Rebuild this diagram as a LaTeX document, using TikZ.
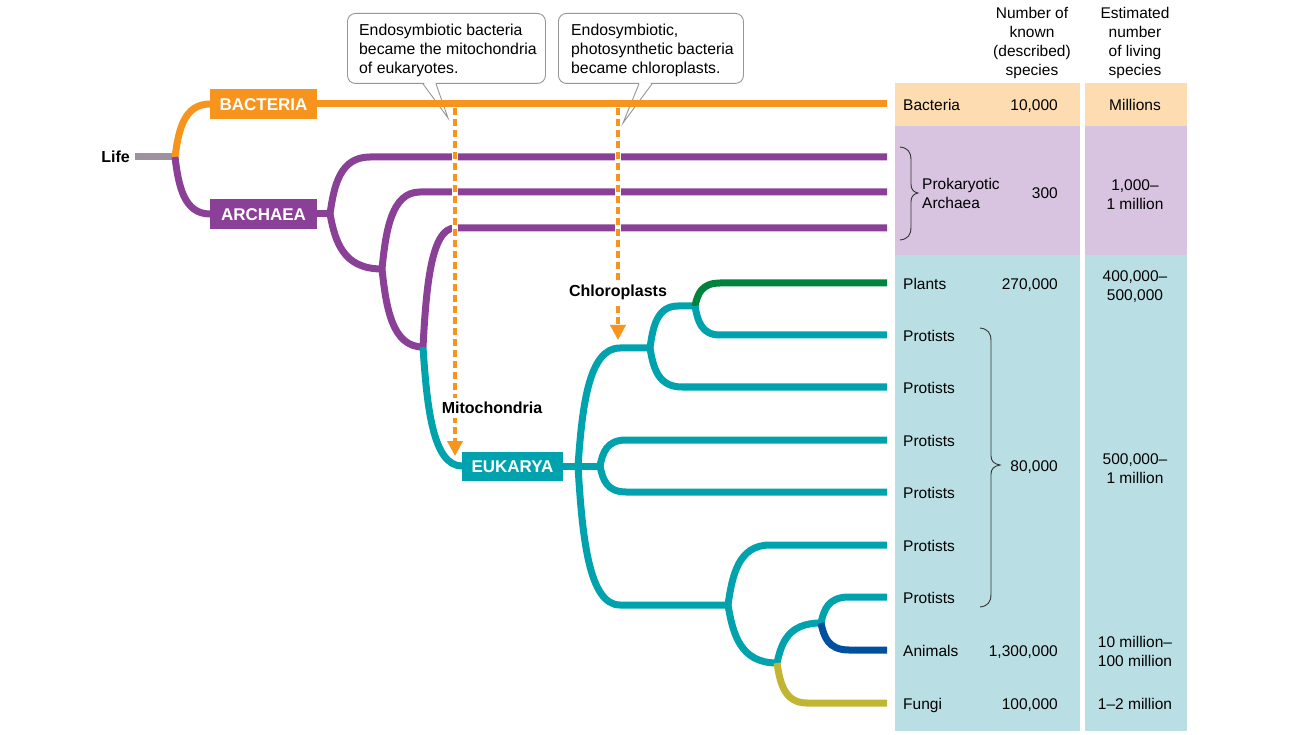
\documentclass[tikz,border=0pt]{standalone}
\usepackage{fontspec}
\setmainfont{Liberation Sans}
\usetikzlibrary{calc,arrows.meta}
\definecolor{orng}{RGB}{247,148,30}
\definecolor{purp}{RGB}{139,64,152}
\definecolor{tealc}{RGB}{0,163,173}
\definecolor{grn}{RGB}{0,132,61}
\definecolor{navyc}{RGB}{0,80,160}
\definecolor{olivec}{RGB}{192,182,50}
\definecolor{lifegray}{RGB}{158,146,158}
\definecolor{bacfill}{RGB}{253,220,178}
\definecolor{arcfill}{RGB}{216,196,224}
\definecolor{eukfill}{RGB}{185,223,228}
\definecolor{callgray}{RGB}{150,150,150}
\begin{document}
\begin{tikzpicture}[x=1pt,y=-1pt,
  br/.style={to path={let \p1=(\tikztostart),\p2=(\tikztotarget) in
     .. controls (\x1+0.1*#1pt, 0.5*\y1+0.5*\y2) and (\x1+0.25*#1pt,\y2) .. (\x1+#1pt,\y2) -- (\tikztotarget)}},
  tree/.style={line width=7pt},
  boxlab/.style={font=\fontsize{17}{20}\selectfont\bfseries, text=white, minimum width=107pt, minimum height=30pt,
     inner sep=0pt, text height=12.2pt, text depth=0pt},
  tbl/.style={font=\fontsize{15.5}{19}\selectfont, inner sep=0pt},
  tbll/.style={tbl, anchor=base west},
  tblr/.style={tbl, anchor=base east},
  tblc/.style={tbl, align=center},
  bold/.style={font=\fontsize{16}{19}\selectfont\bfseries},
  callbox/.style={draw=callgray, line width=0.9pt, fill=white, rounded corners=8pt, minimum height=70pt,
     inner sep=0pt, anchor=north west},
  calltext/.style={align=left, font=\fontsize{15.8}{19}\selectfont, inner sep=0pt, anchor=west},
  callline/.style={callgray, line width=0.9pt},
  dasharr/.style={orng, line width=4pt, dash pattern=on 7pt off 4pt, -{Triangle[width=15pt,length=15pt]}},
  knock/.style={white, line width=6.5pt},
  bracec/.style={black!80, line width=0.9pt}
]
\useasboundingbox (0,0) rectangle (1291,735);

% ---------- table backgrounds ----------
\fill[bacfill] (895,83) rectangle (1080,126);
\fill[bacfill] (1085,83) rectangle (1187,126);
\fill[arcfill] (895,126) rectangle (1080,255);
\fill[arcfill] (1085,126) rectangle (1187,255);
\fill[eukfill] (895,255) rectangle (1080,731);
\fill[eukfill] (1085,255) rectangle (1187,731);

% ---------- callouts ----------
\node[callbox, minimum width=198pt] (c1) at (347,13) {};
\node[calltext] (c1txt) at (359,50.5) {Endosymbiotic bacteria\\became the mitochondria\\of eukaryotes.};
\coordinate (c1a) at ($(c1.south west)+(76,0)$);
\coordinate (c1b) at ($(c1.south west)+(89,0)$);
\coordinate (c1t) at (448,118);
\fill[white] ($(c1a)+(0.6,-1.5)$) -- ($(c1b)+(-0.6,-1.5)$) -- (c1t) -- cycle;
\draw[callline] (c1a) -- (c1t) -- (c1b);

\node[callbox, minimum width=185pt] (c2) at (558,13) {};
\node[calltext] (c2txt) at (571,50.5) {Endosymbiotic,\\photosynthetic bacteria\\became chloroplasts.};
\coordinate (c2a) at ($(c2.south west)+(81,0)$);
\coordinate (c2b) at ($(c2.south west)+(94,0)$);
\coordinate (c2t) at (623,123);
\fill[white] ($(c2a)+(0.6,-1.5)$) -- ($(c2b)+(-0.6,-1.5)$) -- (c2t) -- cycle;
\draw[callline] (c2a) -- (c2t) -- (c2b);

% ---------- coordinates ----------
\coordinate (Ls) at (135,157);
\coordinate (L0) at (175,157);
\coordinate (A0) at (330,214);
\coordinate (A1) at (382,269);
\coordinate (A2) at (423,347);
\coordinate (E0) at (578,466);
\coordinate (E2) at (600,466);
\coordinate (E1) at (650,348);
\coordinate (E4) at (695,306);
\coordinate (E3) at (728,605);
\coordinate (E5) at (777,663);
\coordinate (E6) at (821,623);
\coordinate (tb) at (887,104);
\coordinate (ta1) at (887,157);
\coordinate (ta2) at (887,192);
\coordinate (ta3) at (887,228);
\coordinate (tpl) at (887,283);
\coordinate (tp1) at (887,335);
\coordinate (tp2) at (887,387);
\coordinate (tp3) at (887,440);
\coordinate (tp4) at (887,492);
\coordinate (tp5) at (887,545);
\coordinate (tp6) at (887,597);
\coordinate (tan) at (887,650);
\coordinate (tfu) at (887,703);

% ---------- domain boxes ----------
\node[boxlab, fill=orng] (bac) at (263.5,104) {BACTERIA};
\node[boxlab, fill=purp] (arc) at (263.5,214) {ARCHAEA};
\node[boxlab, fill=tealc, minimum width=101pt, minimum height=29pt] (euk) at (512.5,466) {EUKARYA};
\node[bold, anchor=base east, inner sep=0pt] (life) at (130,163) {Life};

% ---------- tree ----------
\draw[tree, lifegray] (Ls) -- (L0);
\draw[tree, orng] (L0) to[br=35] (bac.west);
\draw[tree, orng] (bac.east) -- (tb);
\draw[tree, purp] (L0) to[br=35] (arc.west);
\draw[tree, purp] (arc.east) -- (A0);
\draw[tree, purp] (A0) to[br=40] (ta1);
\draw[tree, purp] (A0) to[br=52] (A1);
\draw[tree, purp] (A1) to[br=38] (ta2);
\draw[tree, purp] (A1) to[br=41] (A2);
\draw[tree, purp] (A2) to[br=32] (ta3);
\draw[tree, tealc] (A2) to[br=39] (euk.west);
\draw[tree, tealc] (euk.east) -- (E2);
\draw[tree, tealc] (E0) to[br=42] (E1);
\draw[tree, tealc] (E0) to[br=42] (E3);
\draw[tree, tealc] (E2) to[br=26] (tp3);
\draw[tree, tealc] (E2) to[br=26] (tp4);
\draw[tree, tealc] (E1) to[br=28] (E4);
\draw[tree, tealc] (E1) to[br=32] (tp2);
\draw[tree, grn] (E4) to[br=25] (tpl);
\draw[tree, tealc] (E4) to[br=25] (tp1);
\draw[tree, tealc] (E3) to[br=42] (tp5);
\draw[tree, tealc] (E3) to[br=49] (E5);
\draw[tree, tealc] (E5) to[br=44] (E6);
\draw[tree, olivec] (E5) to[br=30] (tfu);
\draw[tree, tealc] (E6) to[br=28] (tp6);
\draw[tree, navyc] (E6) to[br=28] (tan);

% ---------- endosymbiosis arrows ----------
\coordinate (m0) at (455,108);
\coordinate (m1) at (455,456);
\coordinate (k0) at (618,108);
\coordinate (k1) at (618,340);
\foreach \yy in {157,192,228}{
  \draw[knock] (455,\yy-5) -- (455,\yy+5);
  \draw[knock] (618,\yy-5) -- (618,\yy+5);
}
\draw[dasharr] (m0) -- (m1);
\draw[dasharr] (k0) -- (k1);
\node[bold, fill=white, inner xsep=1pt, inner ysep=4pt] (mito) at (492,408) {Mitochondria};
\node[bold, fill=white, inner xsep=1pt, inner ysep=4pt] (chlo) at (618,292) {Chloroplasts};

% ---------- table headers ----------
\node[tblc] (h1) at (1032,43) {Number of\\known\\(described)\\species};
\node[tblc] (h2) at (1135,43) {Estimated\\number\\of living\\species};

% ---------- table rows ----------
\node[tbll] (n1) at (903,110.5) {Bacteria};
\node[tblr] (k1n) at (1058,110.5) {10,000};
\node[tbl, anchor=base] (e1) at (1135,110.5) {Millions};

\node[tbl, anchor=west, align=left] (n2) at (922,193) {Prokaryotic\\Archaea};
\node[tblr] (k2n) at (1058,199) {300};
\node[tblc] (e2) at (1135,195) {1,000–\\1 million};
\draw[bracec] (900,147) .. controls (908,148) and (911,152) .. (911,160) -- (911,184)
  .. controls (911,189) and (913,192) .. (918,193) .. controls (913,194) and (911,197) .. (911,202)
  -- (911,227) .. controls (911,235) and (908,239) .. (900,240);

\node[tbll] (n3) at (903,289.5) {Plants};
\node[tblr] (k3n) at (1058,289.5) {270,000};
\node[tblc] (e3) at (1135,287) {400,000–\\500,000};

\foreach \yy/\nm in {335/p1,387/p2,440/p3,492/p4,545/p5,597/p6}{
  \node[tbll] (\nm) at (903,\yy+6.5) {Protists};
}
\draw[bracec] (980,328) .. controls (988,329) and (991,333) .. (991,341) -- (991,456)
  .. controls (991,461) and (994,464) .. (1000,465) .. controls (994,466) and (991,469) .. (991,474)
  -- (991,594) .. controls (991,602) and (988,606) .. (980,607);
\node[tblr] (k4n) at (1058,471.5) {80,000};
\node[tblc] (e4) at (1135,469) {500,000–\\1 million};

\node[tbll] (n5) at (903,656.5) {Animals};
\node[tblr] (k5n) at (1058,656.5) {1,300,000};
\node[tblc] (e5) at (1135,651.5) {10 million–\\100 million};

\node[tbll] (n6) at (903,709.5) {Fungi};
\node[tblr] (k6n) at (1058,709.5) {100,000};
\node[tbl, anchor=base] (e6) at (1135,709.5) {1–2 million};
\end{tikzpicture}
\end{document}
